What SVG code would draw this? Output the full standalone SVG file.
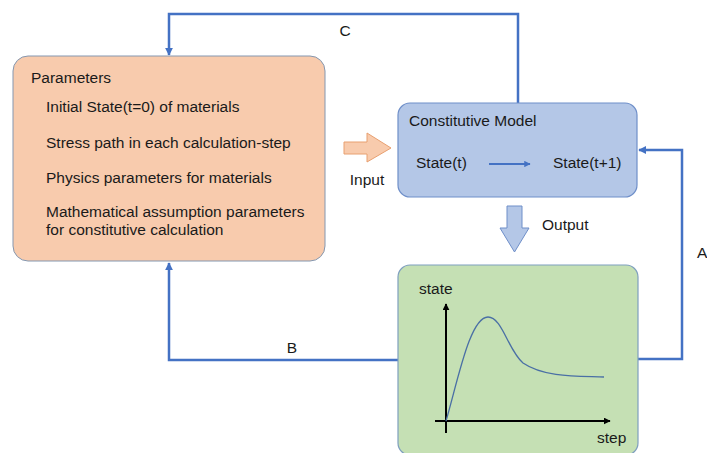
<svg xmlns="http://www.w3.org/2000/svg" width="707" height="453" viewBox="0 0 707 453">
  <style>
    text { font-family: "Liberation Sans", Arial, sans-serif; font-size: 15.5px; fill: #1a1a1a; }
    .conn { fill: none; stroke: #4472c4; stroke-width: 2.5; }
    .axis { fill: none; stroke: #000; stroke-width: 2; }
  </style>
  <defs>
    <marker id="tri" viewBox="0 0 10 10" refX="9" refY="5" markerWidth="3.2" markerHeight="3.2" orient="auto" markerUnits="strokeWidth">
      <path d="M0,0 L10,5 L0,10 z" fill="#4472c4"/>
    </marker>
    <marker id="tri-k" viewBox="0 0 10 10" refX="9" refY="5" markerWidth="3.5" markerHeight="3.5" orient="auto" markerUnits="strokeWidth">
      <path d="M0,0 L10,5 L0,10 z" fill="#000"/>
    </marker>
  </defs>

  <!-- feedback connectors -->
  <g id="connectors">
    <polyline class="conn" points="518,103 518,14 169,14 169,55" marker-end="url(#tri)"/>
    <polyline class="conn" points="398,360 169,360 169,263" marker-end="url(#tri)"/>
    <polyline class="conn" points="638,359 682,359 682,150 639,150" marker-end="url(#tri)"/>
    <text x="345" y="36" text-anchor="middle">C</text>
    <text x="292" y="353" text-anchor="middle">B</text>
    <text x="697" y="258">A</text>
  </g>

  <!-- parameter list -->
  <g id="parameters">
    <rect x="13" y="56" width="312" height="205" rx="15" fill="#f8cbad" stroke="#8497b0" stroke-width="1"/>
    <text x="31" y="83">Parameters</text>
    <text x="46" y="112">Initial State(t=0) of materials</text>
    <text x="46" y="148">Stress path in each calculation-step</text>
    <text x="46" y="183">Physics parameters for materials</text>
    <text x="46" y="217">Mathematical assumption parameters</text>
    <text x="46" y="235">for constitutive calculation</text>
  </g>

  <!-- input block arrow -->
  <g id="input">
    <path d="M344,142 L367,142 L367,133 L391,148 L367,162 L367,154 L344,154 z" fill="#f8cbad" stroke="#e8a070" stroke-width="1"/>
    <text x="367" y="185" text-anchor="middle">Input</text>
  </g>

  <!-- constitutive model -->
  <g id="constitutive-model">
    <rect x="398" y="103" width="239" height="94" rx="12" fill="#b4c7e7" stroke="#6f8fc9" stroke-width="1.2"/>
    <text x="409" y="126">Constitutive Model</text>
    <text x="416" y="168">State(t)</text>
    <text x="553" y="168">State(t+1)</text>
    <line x1="489" y1="164" x2="530" y2="164" stroke="#4472c4" stroke-width="2" marker-end="url(#tri)"/>
  </g>

  <!-- output block arrow -->
  <g id="output">
    <path d="M507,206 L522,206 L522,228 L529,228 L514.5,252 L500,228 L507,228 z" fill="#b4c7e7" stroke="#6f8fc9" stroke-width="1"/>
    <text x="542" y="230">Output</text>
  </g>

  <!-- result chart -->
  <g id="result">
    <rect x="398" y="265" width="240" height="190" rx="12" fill="#c5e0b4" stroke="#7f9fbf" stroke-width="1.2"/>
    <line class="axis" x1="446" y1="433" x2="446" y2="304" marker-end="url(#tri-k)"/>
    <line class="axis" x1="435" y1="421" x2="610" y2="421" marker-end="url(#tri-k)"/>
    <path d="M446,421 C458,380 470,317 488,317 C502,317 508,350 523,363 C545,378 580,376 604,377" fill="none" stroke="#4a6fa5" stroke-width="1.3"/>
    <text x="419" y="294">state</text>
    <text x="597" y="443">step</text>
  </g>
</svg>
